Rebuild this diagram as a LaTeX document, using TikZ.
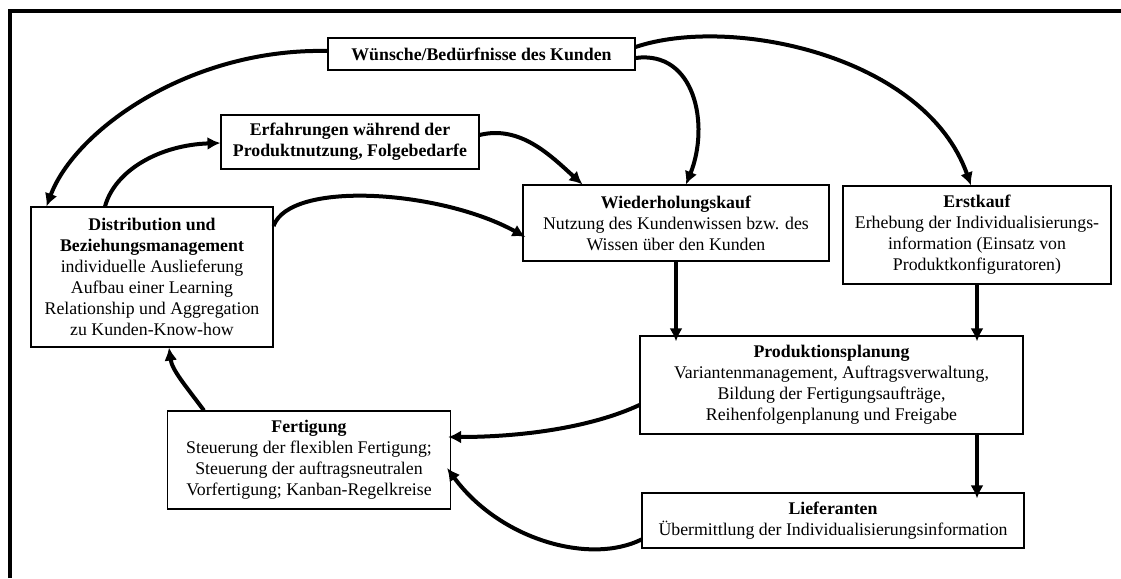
\documentclass[tikz,border=0pt]{standalone}
\usepackage{fontspec}
\setmainfont{Liberation Serif}
\usetikzlibrary{arrows.meta,calc}

\tikzset{
  stage/.style={draw,line width=1.1pt,inner sep=0pt,align=center,
    font=\fontsize{17.8}{21}\selectfont},
  flow/.style={line width=4pt,-{Latex[length=13pt,width=13pt]}},
}

\begin{document}
\begin{tikzpicture}[x=1pt,y=-1pt]
    \useasboundingbox (0,0) rectangle (1121,578);
    \draw[line width=3.2pt] (10,578) -- (10,11) -- (1121,11);

    \node[stage,minimum width=307pt,minimum height=32pt] (wunsch) at (481.5,54)
      {\textbf{Wünsche/Bedürfnisse des Kunden}};
    \node[stage,minimum width=258pt,minimum height=54pt] (erfahr) at (350,142)
      {\textbf{Erfahrungen während der}\\\textbf{Produktnutzung, Folgebedarfe}};
    \node[stage,minimum width=242pt,minimum height=140pt] (distrib) at (152,277)
      {\textbf{Distribution und}\\\textbf{Beziehungsmanagement}\\individuelle Auslieferung\\Aufbau einer Learning\\Relationship und Aggregation\\zu Kunden-Know-how};
    \node[stage,minimum width=306pt,minimum height=76pt] (wieder) at (676,223)
      {\textbf{Wiederholungskauf}\\Nutzung des Kundenwissen bzw. des\\Wissen über den Kunden};
    \node[stage,minimum width=268pt,minimum height=98pt] (erst) at (977,235)
      {\textbf{Erstkauf}\\Erhebung der Individualisierungs-\\information (Einsatz von\\Produktkonfiguratoren)};
    \node[stage,minimum width=383pt,minimum height=98pt] (prod) at (831.5,385)
      {\textbf{Produktionsplanung}\\Variantenmanagement, Auftragsverwaltung,\\Bildung der Fertigungsaufträge,\\Reihenfolgenplanung und Freigabe};
    \node[stage,minimum width=283pt,minimum height=98pt] (fert) at (309,460)
      {\textbf{Fertigung}\\Steuerung der flexiblen Fertigung;\\Steuerung der auftragsneutralen\\Vorfertigung; Kanban-Regelkreise};
    \node[stage,minimum width=382pt,minimum height=55pt] (liefer) at (833,520.5)
      {\textbf{Lieferanten}\\Übermittlung der Individualisierungsinformation};

    % Kundenwunsch
    \draw[flow] ($(wunsch.west)+(0,-3)$) .. controls (190,48) and (75,130) .. ($(distrib.north west)+(16,0)$);
    \draw[flow] ($(wunsch.east)+(0,-7)$) .. controls (730,15) and (925,55) .. ($(erst.north)+(-6,0)$);
    \draw[flow] ($(wunsch.east)+(0,4)$) .. controls (695,50) and (710,125) .. ($(wieder.north)+(10,0)$);
    % Rueckkopplung
    \draw[flow] ($(erfahr.east)+(0,-7)$) .. controls (520,125) and (550,155) .. ($(wieder.north west)+(60,0)$);
    \draw[flow] ($(distrib.north)+(-47,0)$) .. controls (115,170) and (160,145) .. ($(erfahr.west)+(0,1)$);
    \draw[flow] ($(distrib.east)+(0,-51)$) .. controls (290,180) and (440,190) .. ($(wieder.west)+(3,14)$);
    % Planung
    \draw[flow,shorten >=-6pt] (wieder.south) -- (wieder.south |- prod.north);
    \draw[flow,shorten >=-6pt] (erst.south) -- (erst.south |- prod.north);
    \draw[flow,shorten >=-6pt] (erst.south |- prod.south) -- (erst.south |- liefer.north);
    % Fertigung
    \draw[flow] ($(prod.west)+(0,20)$) .. controls (590,428) and (520,437) .. ($(fert.east)+(-3,-23)$);
    \draw[flow] ($(liefer.west)+(0,19)$) .. controls (590,565) and (500,540) .. ($(fert.east)+(-4,8)$);
    \draw[flow] ($(fert.north west)+(37,0)$) .. controls (185,385) and (172,370) .. ($(distrib.south)+(17,0)$);
\end{tikzpicture}
\end{document}
